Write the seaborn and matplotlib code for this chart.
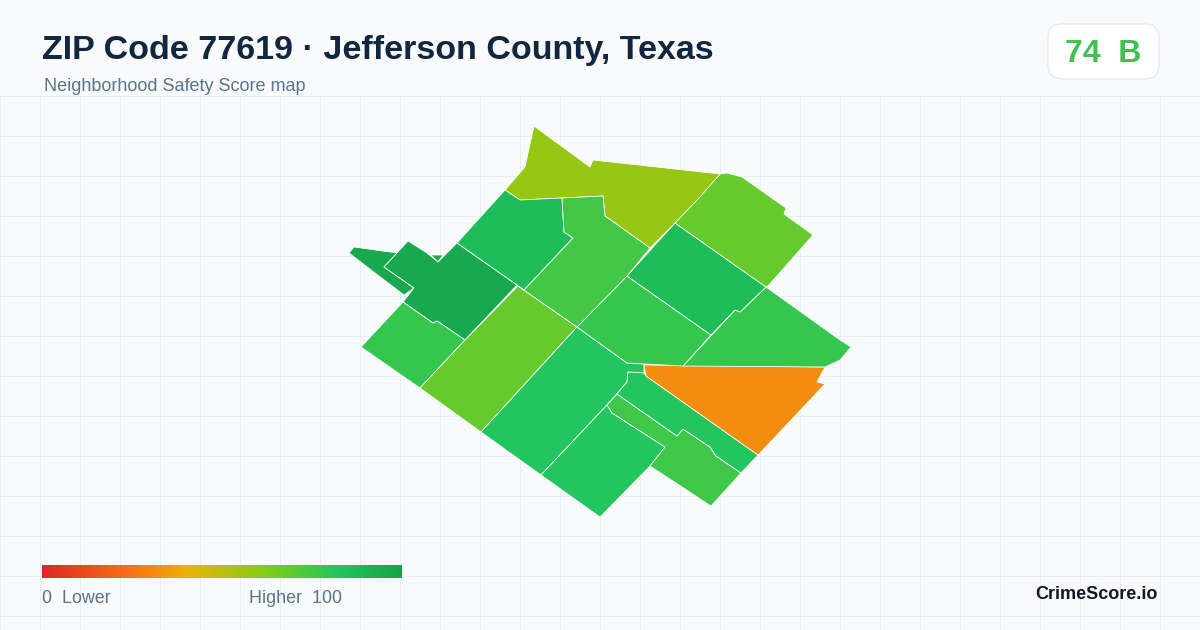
import numpy as np
import matplotlib
matplotlib.use("Agg")
import matplotlib.pyplot as plt
from matplotlib.patches import FancyBboxPatch
import seaborn as sns

tract_scores = [97, 97, 97, 78, 68, 82, 82, 76, 82, 31, 78, 78, 86, 68, 58, 86, 75]

# Tract outlines, in map coordinates
tract_tail = [(349, 253), (354, 247), (397, 253), (384, 267), (414, 288), (404, 295)]
tract_tail_bit = [(431, 255), (443, 255), (438, 262)]
tract_core = [(408, 241), (427, 253), (438, 262), (457, 243), (517, 285), (465, 340), (437, 321),
              (433, 323), (403, 302), (414, 288), (384, 267)]
tract_sw = [(403, 302), (433, 323), (437, 321), (465, 340), (420, 388), (361, 347)]
tract_strip = [(518, 286), (577, 327), (481, 432), (420, 388), (465, 340)]
tract_south = [(577, 327), (627, 363), (644, 364), (644, 373), (628, 372), (627, 382), (607, 405),
               (541, 475), (481, 432)]
tract_tip = [(607, 405), (612, 413), (665, 447), (650, 466), (600, 517), (541, 475)]
tract_block = [(617, 394), (677, 436), (683, 429), (710, 447), (716, 456), (741, 473), (711, 506),
               (650, 466), (665, 447), (612, 413), (607, 405)]
tract_band = [(628, 372), (644, 373), (646, 376), (758, 455), (741, 473), (716, 456), (710, 447),
              (683, 429), (677, 436), (617, 394), (627, 382)]
tract_orange = [(644, 365), (825, 367), (817, 382), (825, 384), (758, 455), (646, 376)]
tract_east = [(683, 366), (735, 310), (740, 312), (766, 287), (840, 340), (851, 347), (840, 360),
              (825, 367)]
tract_center = [(627, 276), (711, 335), (683, 366), (627, 363), (577, 327)]
tract_mid = [(675, 223), (766, 287), (740, 312), (735, 310), (711, 335), (627, 276)]
tract_ne = [(720, 174), (727, 173), (742, 177), (786, 208), (784, 214), (813, 235), (768, 286),
            (766, 287), (675, 223)]
tract_north = [(534, 126), (590, 167), (593, 160), (720, 174), (700, 197), (675, 223), (650, 248),
               (605, 216), (603, 196), (562, 198), (520, 200), (505, 190), (525, 167)]
tract_nw = [(505, 190), (520, 200), (562, 198), (564, 232), (573, 238), (524, 290), (517, 285),
            (457, 243)]
tract_inner = [(562, 198), (603, 196), (605, 216), (650, 248), (627, 276), (577, 327), (518, 286),
               (524, 290), (573, 238), (564, 232)]

tracts = [tract_tail, tract_tail_bit, tract_core, tract_sw, tract_strip, tract_south, tract_tip,
          tract_block, tract_band, tract_orange, tract_east, tract_center, tract_mid, tract_ne,
          tract_north, tract_nw, tract_inner]

# Legend ramp
ramp_colors = ["#dc2626", "#f97316", "#eab308", "#84cc16", "#22c55e", "#16a34a"]
ramp_stops = [0, 0.25, 0.4, 0.62, 0.82, 1]

BG = "#f8fafc"
GRID = "#e8eff3"
MUTED = "#5b7391"
NAVY = "#12263f"

sns.set_theme(style="whitegrid", rc={"figure.facecolor": BG, "axes.facecolor": BG})
plt.rcParams["font.family"] = ["Liberation Sans", "DejaVu Sans"]

cmap = matplotlib.colors.LinearSegmentedColormap.from_list("score", list(zip(ramp_stops, ramp_colors)))

fig = plt.figure(figsize=(12, 6.3), dpi=100)
# map axes starts under the header, so the grid stops there too
ax = fig.add_axes([0, 0, 1, (630 - 96) / 630])
ax.set_xlim(0, 1200)
ax.set_ylim(630, 96)
ax.set_xticks(np.arange(0, 1200, 40))
ax.set_yticks(np.arange(96, 630, 40))
ax.set_xticklabels([])
ax.set_yticklabels([])
ax.tick_params(length=0)
ax.grid(True, color=GRID, linewidth=0.72)
sns.despine(ax=ax, left=True, bottom=True)

for outline, score in zip(tracts, tract_scores):
    xs, ys = zip(*outline)
    ax.fill(xs, ys, facecolor=cmap(score / 100), edgecolor="white", linewidth=0.55, zorder=3)

# header
ax.text(42, 58.5, "ZIP Code 77619 · Jefferson County, Texas", fontsize=24.45, fontweight="bold",
        color=NAVY, va="baseline", ha="left")
ax.text(44, 91, "Neighborhood Safety Score map", fontsize=13, color=MUTED, va="baseline", ha="left")

# score badge
badge = FancyBboxPatch((1062, 38), 83, 27, boxstyle="round,pad=14,rounding_size=14",
                       facecolor="white", edgecolor="#e2e8f0", linewidth=0.8, clip_on=False, zorder=4)
ax.add_patch(badge)
ax.text(1103, 62, "74  B", fontsize=23, fontweight="bold", color="#3fc24f", va="baseline", ha="center", zorder=5)

# legend ramp
cax = fig.add_axes([42 / 1200, 1 - 578 / 630, 360 / 1200, 13 / 630])
ramp_values = np.linspace(0, 100, 360).reshape(1, -1)
sns.heatmap(ramp_values, ax=cax, cmap=cmap, vmin=0, vmax=100, cbar=False, xticklabels=False, yticklabels=False)
ax.text(42, 603, "0  Lower", fontsize=12.9, color=MUTED, va="baseline", ha="left", zorder=5)
ax.text(249, 603, "Higher  100", fontsize=12.9, color=MUTED, va="baseline", ha="left", zorder=5)

ax.text(1158, 599, "CrimeScore.io", fontsize=13, fontweight="bold", color="#0f172a", va="baseline", ha="right", zorder=5)

fig.savefig("out.png", dpi=100, facecolor=BG)
